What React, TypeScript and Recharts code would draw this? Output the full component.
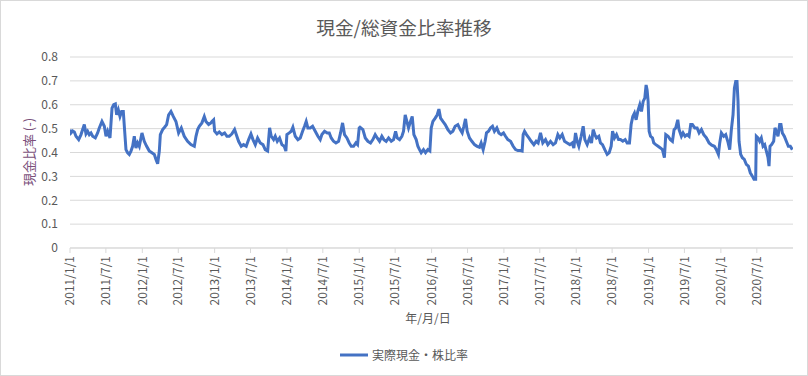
import React from 'react';
import { LineChart, Line, XAxis, YAxis, CartesianGrid } from 'recharts';

const START_YEAR = 2011;

// years elapsed since 2011/1/1
const yearOffsets = [
  0.000, 0.014, 0.037, 0.060, 0.083, 0.120, 0.152, 0.175, 0.198, 0.221, 0.244, 0.267, 0.290, 0.313, 0.350, 0.382, 0.405, 0.442, 0.475, 0.498,
  0.521, 0.553, 0.581, 0.604, 0.627, 0.645, 0.668, 0.691, 0.714, 0.737, 0.756, 0.774, 0.797, 0.820, 0.843, 0.866, 0.889, 0.912, 0.935, 0.958,
  0.995, 1.027, 1.060, 1.097, 1.133, 1.166, 1.189, 1.212, 1.235, 1.249, 1.281, 1.308, 1.336, 1.364, 1.396, 1.428, 1.465, 1.502, 1.539, 1.580,
  1.626, 1.672, 1.719, 1.742, 1.765, 1.788, 1.824, 1.857, 1.880, 1.917, 1.949, 1.963, 1.986, 2.000, 2.032, 2.064, 2.101, 2.138, 2.170, 2.202,
  2.239, 2.276, 2.299, 2.331, 2.368, 2.400, 2.437, 2.470, 2.502, 2.530, 2.562, 2.594, 2.631, 2.668, 2.700, 2.733, 2.760, 2.783, 2.815, 2.838,
  2.866, 2.898, 2.930, 2.962, 2.985, 2.999, 3.032, 3.059, 3.082, 3.115, 3.151, 3.184, 3.216, 3.243, 3.266, 3.289, 3.322, 3.354, 3.391, 3.428,
  3.460, 3.483, 3.520, 3.557, 3.585, 3.612, 3.644, 3.677, 3.714, 3.741, 3.769, 3.796, 3.829, 3.861, 3.889, 3.921, 3.953, 3.976, 3.999, 4.010,
  4.050, 4.083, 4.119, 4.156, 4.188, 4.220, 4.248, 4.280, 4.312, 4.340, 4.372, 4.405, 4.442, 4.474, 4.502, 4.524, 4.557, 4.589, 4.612, 4.635,
  4.658, 4.681, 4.708, 4.732, 4.755, 4.787, 4.810, 4.833, 4.856, 4.888, 4.916, 4.948, 4.976, 4.995, 5.018, 5.050, 5.078, 5.101, 5.124, 5.156,
  5.188, 5.225, 5.262, 5.294, 5.326, 5.363, 5.396, 5.423, 5.446, 5.469, 5.492, 5.524, 5.557, 5.593, 5.630, 5.662, 5.685, 5.713, 5.740, 5.759,
  5.787, 5.814, 5.842, 5.869, 5.902, 5.930, 5.962, 5.994, 6.022, 6.054, 6.092, 6.128, 6.161, 6.193, 6.230, 6.252, 6.266, 6.285, 6.312, 6.345,
  6.377, 6.414, 6.446, 6.473, 6.506, 6.538, 6.575, 6.607, 6.644, 6.681, 6.713, 6.746, 6.773, 6.806, 6.838, 6.875, 6.912, 6.944, 6.967, 6.990,
  7.013, 7.036, 7.068, 7.096, 7.119, 7.151, 7.184, 7.211, 7.234, 7.257, 7.280, 7.312, 7.335, 7.363, 7.395, 7.428, 7.456, 7.483, 7.502, 7.529,
  7.557, 7.585, 7.612, 7.644, 7.677, 7.704, 7.736, 7.759, 7.782, 7.805, 7.828, 7.851, 7.879, 7.902, 7.925, 7.948, 7.966, 7.980, 7.994, 8.008,
  8.027, 8.054, 8.072, 8.100, 8.132, 8.164, 8.192, 8.219, 8.238, 8.270, 8.302, 8.330, 8.353, 8.376, 8.404, 8.422, 8.454, 8.477, 8.505, 8.533,
  8.560, 8.583, 8.606, 8.639, 8.671, 8.699, 8.731, 8.763, 8.800, 8.837, 8.874, 8.910, 8.938, 8.966, 8.984, 9.007, 9.040, 9.067, 9.095, 9.122,
  9.145, 9.168, 9.187, 9.205, 9.223, 9.237, 9.251, 9.274, 9.297, 9.324, 9.352, 9.380, 9.407, 9.435, 9.458, 9.481, 9.490, 9.513, 9.536, 9.559,
  9.583, 9.606, 9.629, 9.652, 9.666, 9.679, 9.702, 9.730, 9.748, 9.767, 9.790, 9.813, 9.831, 9.850, 9.877, 9.905, 9.933, 9.960, 9.988,
];

// 実際現金・株比率
const cashRatios = [
  0.496, 0.482, 0.490, 0.486, 0.468, 0.454, 0.475, 0.496, 0.517, 0.478, 0.489, 0.475, 0.482, 0.468, 0.461, 0.482, 0.503, 0.530, 0.510, 0.468,
  0.489, 0.461, 0.586, 0.600, 0.603, 0.558, 0.579, 0.551, 0.572, 0.572, 0.489, 0.412, 0.399, 0.392, 0.406, 0.426, 0.468, 0.419, 0.440, 0.426,
  0.482, 0.447, 0.426, 0.406, 0.399, 0.392, 0.371, 0.353, 0.406, 0.475, 0.496, 0.506, 0.517, 0.558, 0.572, 0.551, 0.530, 0.482, 0.503, 0.468,
  0.447, 0.433, 0.426, 0.468, 0.496, 0.510, 0.524, 0.551, 0.530, 0.517, 0.524, 0.530, 0.537, 0.489, 0.478, 0.486, 0.475, 0.482, 0.468, 0.468,
  0.478, 0.496, 0.475, 0.447, 0.426, 0.433, 0.426, 0.454, 0.478, 0.454, 0.433, 0.461, 0.440, 0.433, 0.412, 0.406, 0.503, 0.468, 0.454, 0.468,
  0.447, 0.461, 0.433, 0.426, 0.406, 0.475, 0.482, 0.489, 0.506, 0.468, 0.454, 0.461, 0.489, 0.510, 0.530, 0.503, 0.503, 0.510, 0.489, 0.468,
  0.454, 0.475, 0.489, 0.482, 0.482, 0.461, 0.447, 0.440, 0.447, 0.482, 0.524, 0.475, 0.461, 0.440, 0.426, 0.426, 0.440, 0.433, 0.503, 0.506,
  0.496, 0.461, 0.447, 0.440, 0.454, 0.475, 0.461, 0.447, 0.468, 0.454, 0.447, 0.461, 0.447, 0.454, 0.489, 0.461, 0.454, 0.468, 0.489, 0.558,
  0.530, 0.503, 0.530, 0.551, 0.475, 0.454, 0.426, 0.412, 0.399, 0.412, 0.399, 0.412, 0.406, 0.503, 0.530, 0.544, 0.558, 0.582, 0.544, 0.530,
  0.517, 0.496, 0.482, 0.489, 0.510, 0.517, 0.496, 0.482, 0.510, 0.541, 0.489, 0.461, 0.447, 0.433, 0.426, 0.422, 0.440, 0.412, 0.447, 0.482,
  0.489, 0.503, 0.510, 0.489, 0.503, 0.482, 0.475, 0.482, 0.468, 0.454, 0.447, 0.426, 0.412, 0.408, 0.408, 0.406, 0.475, 0.489, 0.475, 0.461,
  0.447, 0.433, 0.447, 0.440, 0.482, 0.440, 0.454, 0.433, 0.447, 0.433, 0.440, 0.475, 0.461, 0.475, 0.447, 0.440, 0.433, 0.440, 0.419, 0.482,
  0.447, 0.426, 0.468, 0.510, 0.454, 0.433, 0.461, 0.440, 0.496, 0.475, 0.461, 0.468, 0.440, 0.433, 0.412, 0.392, 0.399, 0.426, 0.489, 0.461,
  0.475, 0.454, 0.454, 0.447, 0.454, 0.440, 0.440, 0.517, 0.551, 0.565, 0.537, 0.572, 0.600, 0.572, 0.614, 0.628, 0.683, 0.662, 0.614, 0.489,
  0.468, 0.461, 0.440, 0.433, 0.426, 0.419, 0.412, 0.378, 0.475, 0.468, 0.454, 0.447, 0.496, 0.503, 0.537, 0.496, 0.468, 0.482, 0.468, 0.475,
  0.468, 0.517, 0.517, 0.503, 0.503, 0.482, 0.496, 0.475, 0.461, 0.440, 0.431, 0.426, 0.412, 0.392, 0.440, 0.482, 0.468, 0.475, 0.447, 0.412,
  0.496, 0.558, 0.669, 0.697, 0.697, 0.614, 0.447, 0.392, 0.378, 0.371, 0.350, 0.343, 0.315, 0.301, 0.288, 0.288, 0.468, 0.461, 0.447, 0.461,
  0.426, 0.433, 0.406, 0.378, 0.343, 0.426, 0.433, 0.447, 0.503, 0.489, 0.468, 0.517, 0.517, 0.482, 0.468, 0.447, 0.426, 0.426, 0.412,
];

const xTickLabels = [
  '2011/1/1', '2011/7/1', '2012/1/1', '2012/7/1', '2013/1/1', '2013/7/1', '2014/1/1', '2014/7/1', '2015/1/1', '2015/7/1',
  '2016/1/1', '2016/7/1', '2017/1/1', '2017/7/1', '2018/1/1', '2018/7/1', '2019/1/1', '2019/7/1', '2020/1/1', '2020/7/1',
];
const yTicks = [0, 0.1, 0.2, 0.3, 0.4, 0.5, 0.6, 0.7, 0.8];

const TITLE = '現金/総資金比率推移';
const Y_LABEL = '現金比率 (-)';
const X_LABEL = '年/月/日';
const SERIES_NAME = '実際現金・株比率';

const FONT = '"Noto Sans CJK JP", "Noto Sans", sans-serif';
const TEXT = '#595959';
const GRID = '#d9d9d9';
const LINE = '#4472C4';

function toDecimalYear(s: string): number {
  const [y, m, d] = s.split('/').map(Number);
  const start = Date.UTC(y, 0, 1);
  const end = Date.UTC(y + 1, 0, 1);
  return y + (Date.UTC(y, m - 1, d) - start) / (end - start);
}

const data = yearOffsets.map((t, i) => ({ t: START_YEAR + t, v: cashRatios[i] }));
const xTicks = xTickLabels.map(toDecimalYear);
const xDomain: [number, number] = [toDecimalYear('2011/1/1'), toDecimalYear('2020/12/31')];

function labelFor(v: number): string {
  let best = 0;
  for (let i = 1; i < xTicks.length; i++) {
    if (Math.abs(xTicks[i] - v) < Math.abs(xTicks[best] - v)) best = i;
  }
  return xTickLabels[best];
}

const XTick = (props: any) => {
  const { x, y, payload } = props;
  return (
    <text
      x={x}
      y={y}
      transform={`rotate(-90, ${x}, ${y})`}
      textAnchor="end"
      dy="0.35em"
      fill={TEXT}
      fontSize={12}
      fontFamily={FONT}
    >
      {labelFor(payload.value)}
    </text>
  );
};

export default function App() {
  return (
    <div style={{ position: 'fixed', left: 0, top: 0, width: 808, height: 376, background: '#fff', fontFamily: FONT }}>
      <LineChart width={808} height={376} data={data} margin={{ top: 57, right: 15, bottom: 0, left: 0 }}>
        <CartesianGrid vertical={false} stroke={GRID} />
        <XAxis
          dataKey="t"
          type="number"
          domain={xDomain}
          ticks={xTicks}
          interval={0}
          height={128}
          axisLine={{ stroke: GRID }}
          tickLine={{ stroke: GRID }}
          tickSize={5}
          tickMargin={3}
          tick={<XTick />}
          allowDataOverflow
        />
        <YAxis
          domain={[0, 0.8]}
          ticks={yTicks}
          width={70}
          axisLine={false}
          tickLine={false}
          tickMargin={6}
          tick={{ fill: TEXT, fontSize: 12, fontFamily: FONT }}
          tickFormatter={(v: number) => (v === 0 ? '0' : v.toFixed(1))}
        />
        <Line
          type="linear"
          dataKey="v"
          name={SERIES_NAME}
          stroke={LINE}
          strokeWidth={3}
          dot={false}
          isAnimationActive={false}
        />
      </LineChart>
      <div style={{ position: 'absolute', top: 14, left: 0, width: 808, textAlign: 'center', fontSize: 18.7, color: TEXT, lineHeight: '26px' }}>
        {TITLE}
      </div>
      <div
        style={{
          position: 'absolute', left: 29, top: 152, transform: 'translate(-50%, -50%) rotate(-90deg)',
          whiteSpace: 'nowrap', fontSize: 13, color: '#7a4f7a', lineHeight: '16px',
        }}
      >
        {Y_LABEL}
      </div>
      <div style={{ position: 'absolute', top: 309, left: 388, width: 80, textAlign: 'center', fontSize: 12, color: TEXT, lineHeight: '18px' }}>
        {X_LABEL}
      </div>
      <div
        style={{
          position: 'absolute', top: 346, left: 0, width: 808, display: 'flex', alignItems: 'center', justifyContent: 'center',
          fontSize: 12, color: TEXT, lineHeight: '18px',
        }}
      >
        <svg width={28} height={6} style={{ marginRight: 4 }}>
          <line x1={0} y1={3} x2={28} y2={3} stroke={LINE} strokeWidth={3} />
        </svg>
        <span>{SERIES_NAME}</span>
      </div>
      <div style={{ position: 'absolute', left: 0, top: 0, width: 808, height: 376, boxSizing: 'border-box', border: `1px solid ${GRID}`, pointerEvents: 'none' }} />
    </div>
  );
}
